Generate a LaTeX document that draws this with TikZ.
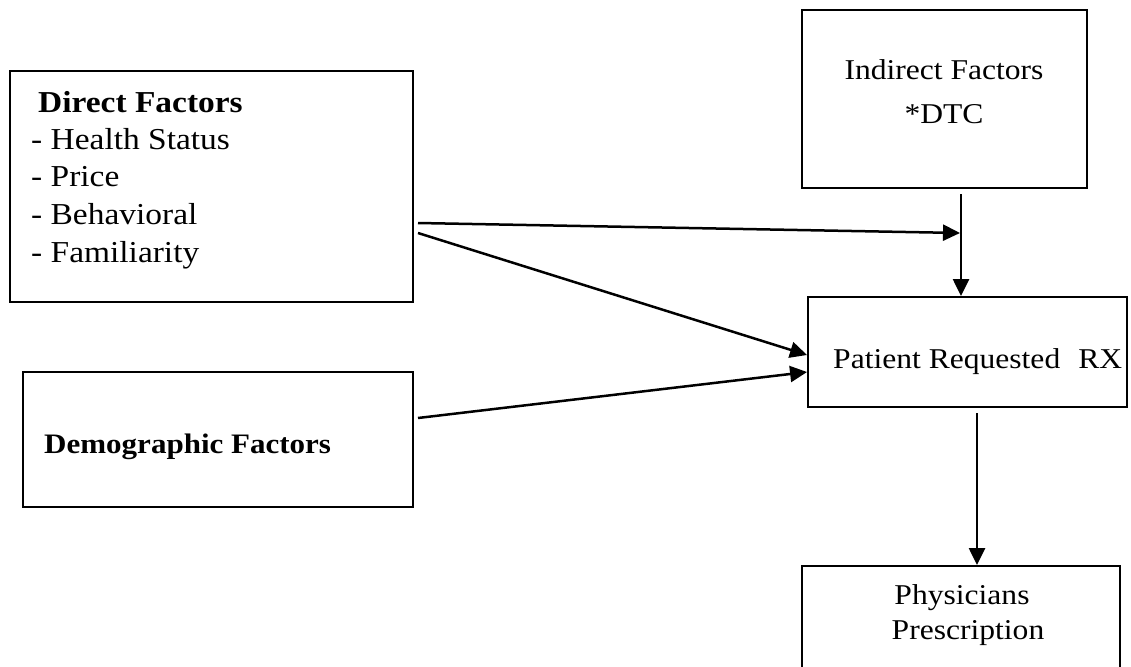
\documentclass[tikz,border=0pt]{standalone}
\usepackage{fontspec}
\setmainfont{Liberation Serif}[FakeStretch=1.1]
\usetikzlibrary{arrows.meta}
\begin{document}
\begin{tikzpicture}[x=1pt,y=-1pt,
  box/.style={draw, line width=1.9pt, rectangle, inner sep=0pt},
  txt/.style={inner sep=0pt, font=\fontsize{28.7}{38}\selectfont},
  ltxt/.style={inner sep=0pt, font=\fontsize{30.4}{38}\selectfont},
  btxt/.style={inner sep=0pt, font=\fontsize{30.4}{38}\selectfont\bfseries},
  arr/.style={line width=2.5pt, -{Triangle[length=17pt,width=16pt]}}]
\useasboundingbox (0,0) rectangle (1131,666);
\clip (0,0) rectangle (1131,666);
% boxes
\node[box, minimum width=403pt, minimum height=231pt] (direct) at (211.5,186.5) {};
\node[box, minimum width=390pt, minimum height=135pt] (demo) at (218,439.5) {};
\node[box, minimum width=285pt, minimum height=178pt] (ind) at (944.5,99) {};
\node[box, minimum width=319pt, minimum height=110pt] (pat) at (967.5,352) {};
\node[box, minimum width=318pt, minimum height=124pt] (phys) at (961,628) {};
% texts
\node[btxt, anchor=base west] (t1) at (38,113) {Direct Factors};
\node[ltxt, anchor=base west] (t2) at (31,149) {- Health Status};
\node[ltxt, anchor=base west] (t3) at (31,186.5) {- Price};
\node[ltxt, anchor=base west] (t4) at (31,224) {- Behavioral};
\node[ltxt, anchor=base west] (t5) at (31,262) {- Familiarity};
\node[txt, font=\fontsize{28.2}{38}\selectfont\bfseries, anchor=base west] (t6) at (44,453) {Demographic Factors};
\node[txt, anchor=base] (t7) at (944,80) {Indirect Factors};
\node[txt, anchor=base] (t8) at (944,123) {*DTC};
\node[txt, anchor=base west] (t9) at (833,368) {Patient Requested\hspace{18pt}RX};
\node[txt, anchor=base] (t10) at (962,604) {Physicians};
\node[txt, anchor=base] (t11) at (968,639) {Prescription};
% connector points
\coordinate (s1) at (418,223);
\coordinate (s2) at (418,233);
\coordinate (s3) at (418,418);
\coordinate (j) at (960,233);
\coordinate (s4) at (961,194);
\coordinate (s5) at (977,413);
% connectors
\draw[arr] (s1) -- (j);
\draw[arr] (s2) -- ([yshift=-3pt]pat.west);
\draw[arr] (s3) -- ([yshift=-20pt]pat.west);
\draw[arr] (s4) -- (s4 |- pat.north);
\draw[arr] (s5) -- (s5 |- phys.north);
\end{tikzpicture}
\end{document}
